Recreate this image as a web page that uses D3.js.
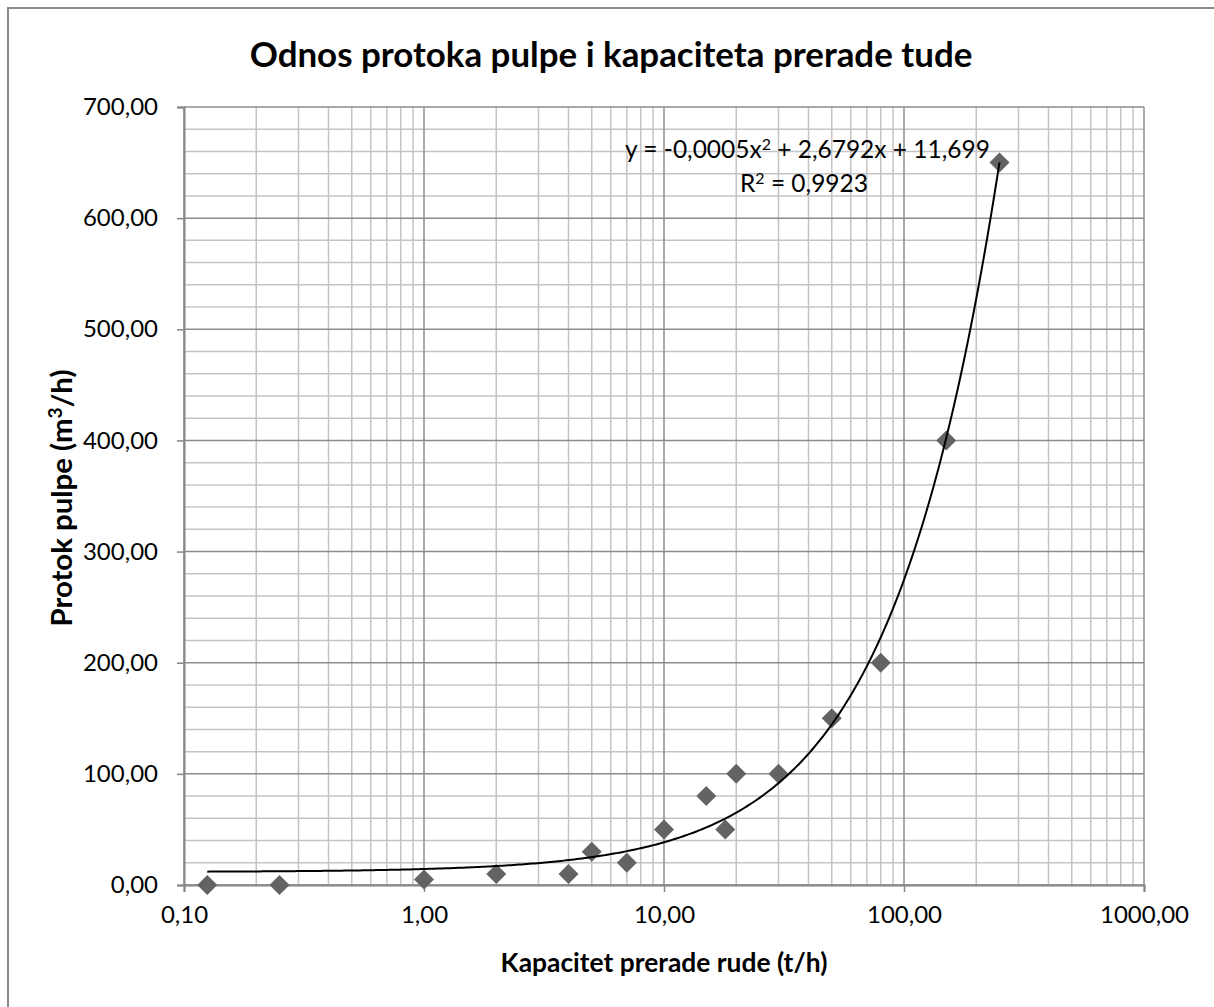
<!DOCTYPE html>
<html>
<head>
<meta charset="utf-8">
<script src="https://cdn.jsdelivr.net/npm/d3@7"></script>
<style>
  html, body { margin: 0; padding: 0; background: #fff; }
  svg { display: block; }
  text { font-family: Lato, "Open Sans", "Liberation Sans", sans-serif; fill: #000; }
</style>
</head>
<body>
<svg id="chart" width="1214" height="1007"></svg>
<script>
// ---- data ----
const capacity = [0.125, 0.25, 1, 2, 4, 5, 7, 10, 15, 18, 20, 30, 50, 80, 150, 250];
const flow     = [0,     0,    5, 10, 10, 30, 20, 50, 80, 50, 100, 100, 150, 200, 400, 650];
const xTickValues = [0.1, 1, 10, 100, 1000];
const xTickLabels = ["0,10", "1,00", "10,00", "100,00", "1000,00"];
const yTickValues = [0, 100, 200, 300, 400, 500, 600, 700];
const yTickLabels = ["0,00", "100,00", "200,00", "300,00", "400,00", "500,00", "600,00", "700,00"];
const trendCoef = [11.699, 2.6792, -0.0005]; // c0 + c1 x + c2 x^2
const trendRange = [0.125, 250];
const titleText = "Odnos protoka pulpe i kapaciteta prerade tude";
const xTitleText = "Kapacitet prerade rude (t/h)";
// pieces: [text, superscript?]
const yTitleParts = [["Protok pulpe (m", false], ["3", true], ["/h)", false]];
const eqParts = [["y = -0,0005x", false], ["2", true], [" + 2,6792x + 11,699", false]];
const r2Parts = [["R", false], ["2", true], [" = 0,9923", false]];

(function () {
const svg = d3.select("#chart");
const pL = 184, pR = 1144, pT = 107, pB = 885;

const x = d3.scaleLog().domain([0.1, 1000]).range([pL, pR]);
const y = d3.scaleLinear().domain([0, 700]).range([pB, pT]);

// outer chart border (only top/left visible)
svg.append("rect").attr("x", 8).attr("y", 8).attr("width", 1300).attr("height", 1100)
  .attr("fill", "none").attr("stroke", "#8a8a8a").attr("stroke-width", 2);

function fitText(sel, target) {
  const w = sel.node().getComputedTextLength();
  const fs = parseFloat(sel.attr("font-size"));
  sel.attr("font-size", fs * target / w);
  return fs * target / w;
}
function richText(sel, parts) {
  parts.forEach(([s, sup], i) => {
    const ts = sel.append("tspan").text(s);
    if (sup) ts.attr("font-size", "65%").attr("dy", "-0.5em");
    else if (i > 0 && parts[i - 1][1]) ts.attr("dy", "0.325em");
  });
  return sel;
}

// grid
const grid = svg.append("g");
const minorX = [];
for (let d = 0.1; d < 999; d *= 10) for (let k = 2; k <= 9; k++) minorX.push(d * k);
grid.selectAll(".mx").data(minorX).join("line")
  .attr("x1", d => x(d)).attr("x2", d => x(d)).attr("y1", pT).attr("y2", pB)
  .attr("stroke", "#c4c4c4").attr("stroke-width", 1.5);
const minorY = d3.range(0, 701, 20).filter(v => v % 100 !== 0);
grid.selectAll(".my").data(minorY).join("line")
  .attr("x1", pL).attr("x2", pR).attr("y1", d => y(d)).attr("y2", d => y(d))
  .attr("stroke", "#c4c4c4").attr("stroke-width", 1.5);
grid.selectAll(".MX").data(xTickValues).join("line")
  .attr("x1", d => x(d)).attr("x2", d => x(d)).attr("y1", pT).attr("y2", pB)
  .attr("stroke", "#8c8c8c").attr("stroke-width", 1.5);
grid.selectAll(".MY").data(yTickValues).join("line")
  .attr("x1", pL).attr("x2", pR).attr("y1", d => y(d)).attr("y2", d => y(d))
  .attr("stroke", "#8c8c8c").attr("stroke-width", 1.5);

// axes
const yAxis = d3.axisLeft(y).tickValues(yTickValues).tickSize(7).tickPadding(19)
  .tickFormat((d, i) => yTickLabels[i]);
const gy = svg.append("g").attr("transform", `translate(${pL},0)`).call(yAxis);
gy.select(".domain").attr("stroke", "#868686").attr("stroke-width", 2);
gy.selectAll(".tick line").attr("stroke", "#868686").attr("stroke-width", 1.5);
gy.selectAll(".tick text").attr("font-size", 24).attr("font-family", "Lato").attr("fill", "#000");

const xAxis = d3.axisBottom(x).tickValues(xTickValues).tickSize(7).tickPadding(14)
  .tickFormat((d, i) => xTickLabels[i]);
const gx = svg.append("g").attr("transform", `translate(0,${pB})`).call(xAxis);
gx.select(".domain").attr("stroke", "#868686").attr("stroke-width", 2);
gx.selectAll(".tick line").attr("stroke", "#868686").attr("stroke-width", 1.5);
gx.selectAll(".tick text").attr("font-size", 24).attr("font-family", "Lato").attr("fill", "#000");

// markers
svg.append("g").selectAll("path").data(capacity.map((c, i) => [c, flow[i]])).join("path")
  .attr("d", d3.symbol().type(d3.symbolSquare).size(200))
  .attr("transform", d => `translate(${x(d[0])},${y(d[1])}) rotate(45)`)
  .attr("fill", "#636363");

// trendline
const tx = d3.range(0, 301).map(i => trendRange[0] * Math.pow(trendRange[1] / trendRange[0], i / 300));
const line = d3.line().x(d => x(d)).y(d => y(trendCoef[0] + trendCoef[1] * d + trendCoef[2] * d * d));
svg.append("path").datum(tx).attr("d", line)
  .attr("fill", "none").attr("stroke", "#000").attr("stroke-width", 2);

// equation label
const eq = richText(svg.append("text").attr("x", 625).attr("y", 158).attr("font-size", 22), eqParts);
const eqFs = fitText(eq, 365);
richText(svg.append("text").attr("x", 740).attr("y", 192).attr("font-size", eqFs), r2Parts);

// titles
const t = svg.append("text").attr("x", 611).attr("y", 67).attr("text-anchor", "middle")
  .attr("font-size", 30).attr("font-weight", "bold").text(titleText);
fitText(t, 723);
const xt = svg.append("text").attr("x", 664).attr("y", 972).attr("text-anchor", "middle")
  .attr("font-size", 22).attr("font-weight", "bold").text(xTitleText);
fitText(xt, 327);
const yt = richText(svg.append("text").attr("transform", "translate(72,498) rotate(-90)").attr("text-anchor", "middle")
  .attr("font-size", 22).attr("font-weight", "bold"), yTitleParts);
fitText(yt, 257);
})();
</script>
</body>
</html>
